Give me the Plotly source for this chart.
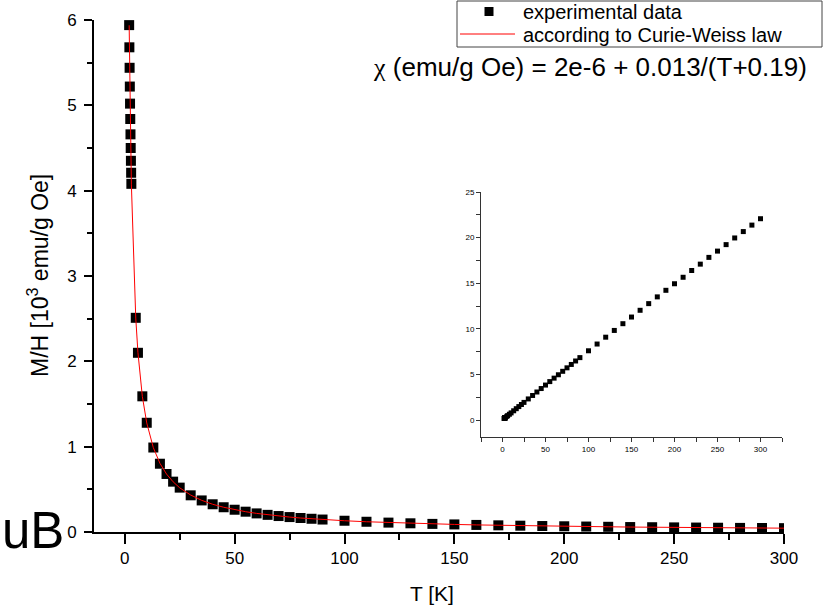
import plotly.graph_objects as go

# ---- data ----
T_K = [2.0, 2.1, 2.2, 2.3, 2.4, 2.5, 2.6, 2.7, 2.8, 2.9, 3.0,
       5, 6, 8, 10, 13, 16, 19, 22, 25, 30, 35, 40, 45, 50, 55, 60, 65, 70, 75, 80, 85, 90,
       100, 110, 120, 130, 140, 150, 160, 170, 180, 190, 200, 210, 220, 230, 240, 250,
       260, 270, 280, 290, 300]

MH_exp = [5.94, 5.68, 5.44, 5.22, 5.02, 4.84, 4.66, 4.50, 4.35, 4.21, 4.08,
          2.51, 2.10, 1.59, 1.28, 0.99, 0.80, 0.68, 0.59, 0.52, 0.43, 0.37, 0.325, 0.29, 0.261,
          0.238, 0.218, 0.201, 0.187, 0.175, 0.164, 0.155, 0.146,
          0.132, 0.120, 0.110, 0.102, 0.095, 0.089, 0.083, 0.078, 0.074, 0.070, 0.067, 0.064,
          0.061, 0.058, 0.056, 0.054, 0.052, 0.050, 0.048, 0.047, 0.045]

MH_fit = [5.938, 5.679, 5.441, 5.223, 5.021, 4.835, 4.661, 4.500, 4.350, 4.209, 4.077,
          2.507, 2.102, 1.589, 1.278, 0.988, 0.805, 0.679, 0.588, 0.518, 0.433, 0.371, 0.325,
          0.290, 0.261, 0.238, 0.218, 0.201, 0.187, 0.175, 0.164, 0.155, 0.146,
          0.132, 0.120, 0.110, 0.102, 0.095, 0.089, 0.083, 0.078, 0.074, 0.070, 0.067, 0.064,
          0.061, 0.058, 0.056, 0.054, 0.052, 0.050, 0.048, 0.047, 0.045]

HM_inset = [0.168, 0.176, 0.184, 0.191, 0.199, 0.207, 0.215, 0.222, 0.230, 0.238, 0.245,
            0.40, 0.48, 0.63, 0.78, 1.01, 1.24, 1.47, 1.70, 1.93, 2.31, 2.69, 3.07, 3.45, 3.83,
            4.21, 4.59, 4.96, 5.34, 5.72, 6.09, 6.47, 6.84,
            7.59, 8.33, 9.08, 9.82, 10.56, 11.29, 12.03, 12.76, 13.50, 14.22, 14.94, 15.65,
            16.39, 17.09, 17.83, 18.52, 19.23, 19.96, 20.66, 21.37, 22.07]

x_ticks = [0, 50, 100, 150, 200, 250, 300]
y_ticks = [0, 1, 2, 3, 4, 5, 6]
inset_y_ticks = [0, 5, 10, 15, 20, 25]

legend_labels = ["experimental data", "according to Curie-Weiss law"]

FONT = "Liberation Sans, Arial, sans-serif"

fig = go.Figure()
fig.add_trace(go.Scatter(
    x=T_K, y=MH_exp, mode="markers", name=legend_labels[0],
    marker=dict(symbol="square", size=10, color="black", line=dict(width=0)),
    xaxis="x", yaxis="y", showlegend=False))
fig.add_trace(go.Scatter(
    x=T_K, y=MH_fit, mode="lines", name=legend_labels[1],
    line=dict(color="#ff0000", width=1),
    xaxis="x", yaxis="y", showlegend=False))
fig.add_trace(go.Scatter(
    x=T_K, y=HM_inset, mode="markers", showlegend=False,
    marker=dict(symbol="square", size=5, color="black", line=dict(width=0)),
    xaxis="x2", yaxis="y2"))

L, R, TOP, B = 94, 54, 20, 77
PW, PH = 838 - L - R, 609 - TOP - B


def px(xp):
    return (xp - L) / PW


def py(yp):
    return (609 - B - yp) / PH


# inset geometry: value 25 at y=192 px, value 0 at y=420 px
INSET_TOP, INSET_ZERO, INSET_BOTTOM = 192, 420, 437
inset_scale = (INSET_ZERO - INSET_TOP) / 25.0
inset_ymin = -(INSET_BOTTOM - INSET_ZERO) / inset_scale

fig.update_layout(
    width=838, height=609,
    margin=dict(l=L, r=R, t=TOP, b=B, autoexpand=False),
    paper_bgcolor="white", plot_bgcolor="white",
    font=dict(family=FONT, color="black"),
    showlegend=False,
    xaxis=dict(
        range=[-14, 300], showline=True, linecolor="black", linewidth=2,
        ticks="outside", ticklen=10, tickwidth=2, tickcolor="black",
        tickvals=x_ticks, tickfont=dict(size=17), showgrid=False, zeroline=False,
        minor=dict(ticks="outside", ticklen=6, tickwidth=2, tickcolor="black",
                   dtick=25, tick0=0, showgrid=False),
        anchor="y"),
    yaxis=dict(
        range=[0, 6], showline=True, linecolor="black", linewidth=2,
        ticks="outside", ticklen=8, tickwidth=2, tickcolor="black",
        tickvals=y_ticks, tickfont=dict(size=17), showgrid=False, zeroline=False,
        ticklabelstandoff=4,
        minor=dict(ticks="outside", ticklen=5, tickwidth=2, tickcolor="black",
                   dtick=0.5, tick0=0, showgrid=False),
        anchor="x"),
    xaxis2=dict(
        domain=[px(481), px(782)], range=[-25, 325], anchor="y2",
        showline=True, linecolor="#333", linewidth=1,
        ticks="outside", ticklen=4, tickwidth=1, tickcolor="#333",
        tickvals=x_ticks, tickfont=dict(size=8), showgrid=False, zeroline=False,
        minor=dict(ticks="outside", ticklen=4, tickwidth=1, tickcolor="#333",
                   dtick=25, tick0=0, showgrid=False)),
    yaxis2=dict(
        domain=[py(INSET_BOTTOM), py(INSET_TOP)], range=[inset_ymin, 25], anchor="x2",
        showline=True, linecolor="#333", linewidth=1,
        ticks="outside", ticklen=4, tickwidth=1, tickcolor="#333",
        tickvals=inset_y_ticks, tickfont=dict(size=8), showgrid=False, zeroline=False,
        minor=dict(ticks="outside", ticklen=4, tickwidth=1, tickcolor="#333",
                   dtick=2.5, tick0=0, showgrid=False)),
)

# ---- legend box (drawn by hand to match the compact original legend) ----
fig.add_shape(type="rect", xref="paper", yref="paper",
              x0=px(457), x1=px(822), y0=py(47), y1=py(1),
              line=dict(color="#444", width=1), fillcolor="white", layer="above")
fig.add_shape(type="rect", xref="paper", yref="paper",
              x0=px(484.5), x1=px(493.5), y0=py(16), y1=py(7),
              line=dict(width=0), fillcolor="black", layer="above")
fig.add_shape(type="line", xref="paper", yref="paper",
              x0=px(460), x1=px(515), y0=py(34), y1=py(34),
              line=dict(color="#ff0000", width=1), layer="above")
fig.add_annotation(xref="paper", yref="paper", x=px(521), y=py(11.5),
                   xanchor="left", yanchor="middle", text=legend_labels[0],
                   showarrow=False, font=dict(size=20, family=FONT, color="black"))
fig.add_annotation(xref="paper", yref="paper", x=px(521), y=py(35),
                   xanchor="left", yanchor="middle", text=legend_labels[1],
                   showarrow=False, font=dict(size=20, family=FONT, color="black"))

fig.add_annotation(
    xref="paper", yref="paper", x=px(371), y=py(67), xanchor="left", yanchor="middle",
    text="<span style=\"font-family:'Liberation Serif'\">χ</span> (emu/g Oe) = 2e-6 + 0.013/(T+0.19)",
    showarrow=False, font=dict(size=26, family=FONT, color="black"))
fig.add_annotation(
    xref="paper", yref="paper", x=px(66), y=py(530), xanchor="right", yanchor="middle",
    text="uB", showarrow=False, font=dict(size=51, family=FONT, color="black"))
fig.add_annotation(
    xref="paper", yref="paper", x=px(38), y=py(276), xanchor="center", yanchor="middle",
    text="M/H [10<sup>3</sup> emu/g Oe]", textangle=-90,
    showarrow=False, font=dict(size=23, family=FONT, color="black"))
fig.add_annotation(
    xref="paper", yref="paper", x=px(432), y=py(593), xanchor="center", yanchor="middle",
    text="T [K]", showarrow=False, font=dict(size=21, family=FONT, color="black"))

fig.write_html("out.html")
